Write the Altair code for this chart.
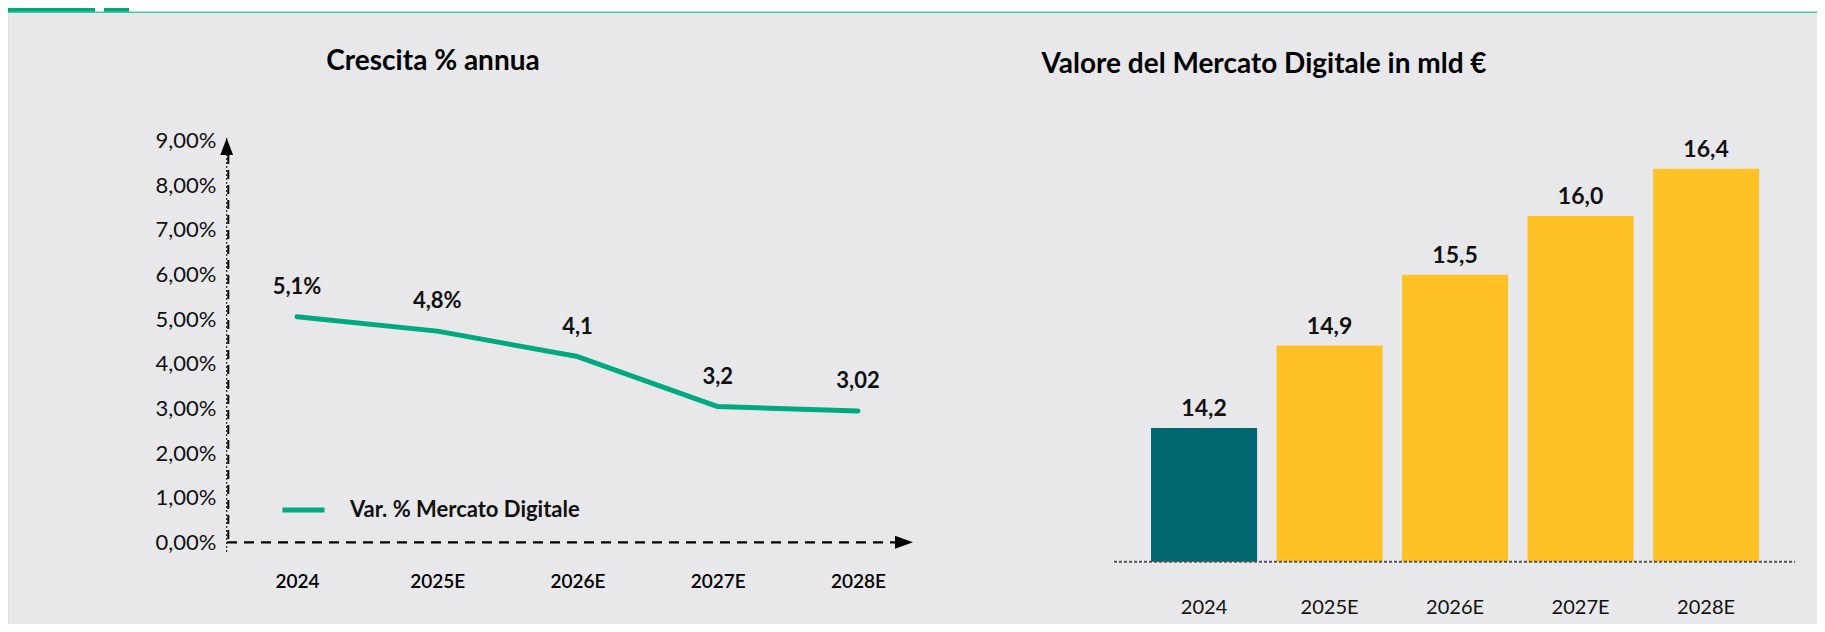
import altair as alt
import pandas as pd

# ---------------- data ----------------
years = ["2024", "2025E", "2026E", "2027E", "2028E"]
growth = [5.05, 4.73, 4.16, 3.04, 2.94]
growth_labels = ["5,1%", "4,8%", "4,1", "3,2", "3,02"]
market = [14.2, 14.9, 15.5, 16.0, 16.4]
market_labels = ["14,2", "14,9", "15,5", "16,0", "16,4"]
bar_kind = ["actual", "estimate", "estimate", "estimate", "estimate"]
y_ticks = [0, 1, 2, 3, 4, 5, 6, 7, 8, 9]
series_name = "Var. % Mercato Digitale"
title_left = "Crescita % annua"
title_right = "Valore del Mercato Digitale in mld €"

# ---------------- style ----------------
FONT = "Lato"
GREEN = "#00A980"
TEAL = "#006770"
YELLOW = "#FFC226"
BG = "#E8E8EA"
W, H = 1809, 612
Y_BASE = 13.065

line_df = pd.DataFrame({"year": years, "growth": growth, "label": growth_labels,
                        "series": [series_name] * len(years)})
bar_df = pd.DataFrame({"year": years, "value": market, "label": market_labels, "kind": bar_kind})
one = pd.DataFrame({"a": [0]})

# ---------------- left chart (line) ----------------
xl_scale = alt.Scale(type="point", domain=years, range=[289, 850], padding=0)
yl_scale = alt.Scale(domain=[0, 9], range=[530.3, 128.5], nice=False, zero=False)
xl_axis = alt.Axis(orient="bottom", offset=-42.3, labelBaseline="middle", labelPadding=0,
                   ticks=False, tickSize=0, domain=False, grid=False, labelAngle=0,
                   labelFont=FONT, labelFontSize=19, labelFontWeight=600, labelColor="#000",
                   title=None)
yl_axis = alt.Axis(orient="left", offset=-218.7, values=y_ticks,
                   labelExpr="replace(format(datum.value, '.2f'), '.', ',') + '%'",
                   labelPadding=10.7, ticks=False, tickSize=0, domain=False, grid=False,
                   labelFont=FONT, labelFontSize=22, labelColor="#111", title=None)
XL = alt.X("year:N", scale=xl_scale, axis=xl_axis, sort=years)
YL = alt.Y("growth:Q", scale=yl_scale, axis=yl_axis)

line = alt.Chart(line_df).mark_line(strokeWidth=5, strokeCap="round", strokeJoin="round").encode(
    x=XL, y=YL,
    color=alt.Color("series:N", scale=alt.Scale(domain=[series_name], range=[GREEN]),
                    legend=alt.Legend(orient="none", legendX=272, legendY=474.5, title=None,
                                      symbolType="stroke", symbolStrokeWidth=5, symbolSize=1764,
                                      labelFont=FONT, labelFontSize=22, labelFontWeight="bold",
                                      labelColor="#111", labelOffset=23, labelLimit=0,
                                      padding=0)),
)
line_text = alt.Chart(line_df).mark_text(font=FONT, fontSize=22, fontWeight="bold", dy=-23,
                                          baseline="alphabetic", color="#111").encode(
    x=XL, y=YL, text="label:N")

y_thin = alt.Chart(one).mark_rule(color="black", strokeWidth=1, strokeDash=[2, 2]).encode(
    x=alt.value(218.7), y=alt.value(126), y2=alt.value(541))
y_thick = alt.Chart(one).mark_rule(color="black", strokeWidth=2, strokeDash=[9, 6]).encode(
    x=alt.value(220.3), y=alt.value(143), y2=alt.value(530))
y_arrow = alt.Chart(one).mark_point(shape="M0,-1L0.75,1L-0.75,1Z", filled=True, size=289,
                                    color="black", opacity=1).encode(
    x=alt.value(218.7), y=alt.value(134.5))
x_line = alt.Chart(one).mark_rule(color="black", strokeWidth=2.3, strokeDash=[10, 7]).encode(
    x=alt.value(219), x2=alt.value(887), y=alt.value(530.3))
x_arrow = alt.Chart(one).mark_point(shape="M1,0L-1,0.72L-1,-0.72Z", filled=True, size=324,
                                    color="black", opacity=1).encode(
    x=alt.value(896), y=alt.value(530.3))

left = alt.layer(line, line_text, y_thin, y_thick, y_arrow, x_line, x_arrow)

# ---------------- right chart (bars) ----------------
xr_scale = alt.Scale(type="band", domain=years, range=[1133.3, 1760.8],
                     paddingInner=0.155, paddingOuter=0.0775)
yr_scale = alt.Scale(domain=[Y_BASE, 16.4], range=[549.7, 156.8], nice=False, zero=False)
xr_axis = alt.Axis(orient="bottom", offset=-17, labelBaseline="middle", labelPadding=0,
                   ticks=False, tickSize=0, domain=False, grid=False, labelAngle=0,
                   labelFont=FONT, labelFontSize=20, labelColor="#111", title=None)
XR = alt.X("year:N", scale=xr_scale, axis=xr_axis, sort=years)
YR = alt.Y("value:Q", scale=yr_scale, axis=None)

bars = alt.Chart(bar_df).mark_bar().encode(
    x=XR, y=YR, y2=alt.datum(Y_BASE),
    color=alt.Color("kind:N", scale=alt.Scale(domain=["actual", "estimate"], range=[TEAL, YELLOW]),
                    legend=None),
)
bar_text = alt.Chart(bar_df).mark_text(font=FONT, fontSize=23, fontWeight="bold", dy=-12,
                                        baseline="alphabetic", color="#111").encode(
    x=XR, y=YR, text="label:N")
base_rule = alt.Chart(one).mark_rule(color="#555555", strokeWidth=2, strokeDash=[3, 2]).encode(
    x=alt.value(1106), x2=alt.value(1787), y=alt.Y("a:Q", scale=yr_scale, axis=None),
).transform_calculate(a=str(Y_BASE))

right = alt.layer(bars, base_rule, bar_text)

# ---------------- titles & decoration ----------------
t_left = alt.Chart(pd.DataFrame({"t": [title_left]})).mark_text(
    font=FONT, fontSize=28, fontWeight="bold", color="#000", baseline="middle", align="center"
).encode(text="t:N", x=alt.value(425), y=alt.value(49.7))
t_right = alt.Chart(pd.DataFrame({"t": [title_right]})).mark_text(
    font=FONT, fontSize=28, fontWeight="bold", color="#000", baseline="middle", align="center"
).encode(text="t:N", x=alt.value(1256), y=alt.value(53))

top_white = alt.Chart(one).mark_rect(color="white").encode(
    x=alt.value(0), x2=alt.value(W), y=alt.value(-4), y2=alt.value(0))
deco1 = alt.Chart(one).mark_rect(color="#00A97A").encode(
    x=alt.value(0), x2=alt.value(87), y=alt.value(-4), y2=alt.value(0))
deco2 = alt.Chart(one).mark_rect(color="#00A97A").encode(
    x=alt.value(96), x2=alt.value(121), y=alt.value(-4), y2=alt.value(0))
top_line = alt.Chart(one).mark_rule(color="#4FC29E", strokeWidth=1.5).encode(
    x=alt.value(0), x2=alt.value(W), y=alt.value(0.3))

chart = alt.layer(top_white, deco1, deco2, top_line, left, right, t_left, t_right).resolve_scale(
    x="independent", y="independent", color="independent"
).properties(
    width=W, height=H,
    autosize=alt.AutoSizeParams(type="none"),
    padding={"top": 4, "left": 0, "right": 0, "bottom": 0},
    background=BG,
).configure_view(fill=BG, stroke=None).configure(font=FONT)

chart.save("out.html", embed_options={"renderer": "svg", "actions": False})
